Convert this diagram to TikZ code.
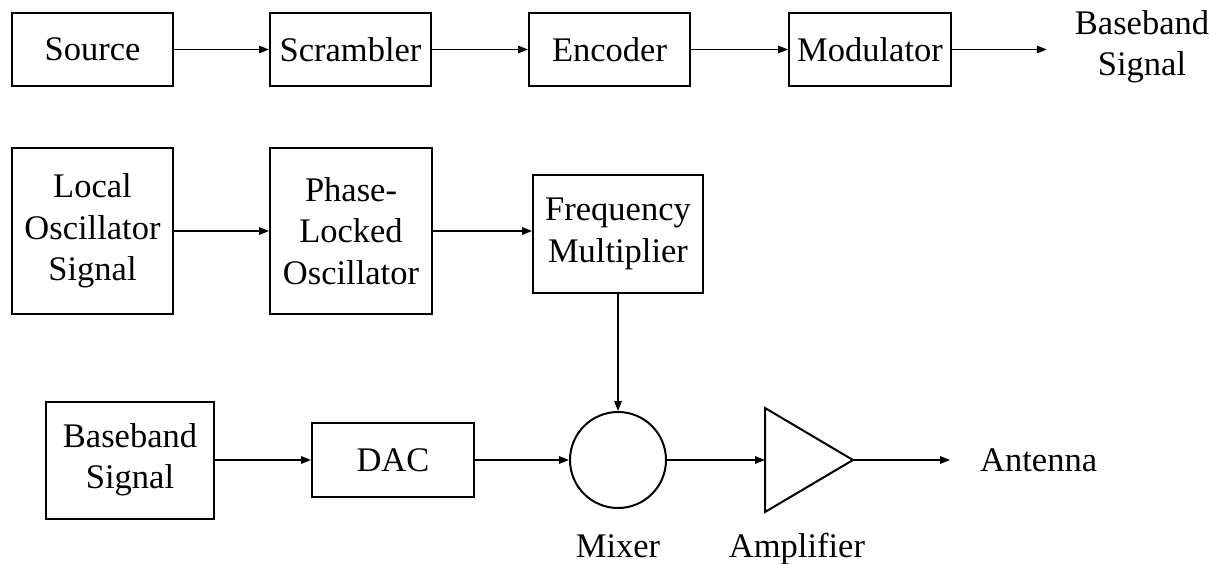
\documentclass[tikz,border=0pt]{standalone}
\usepackage{fontspec}
\setmainfont{Liberation Serif}
\usetikzlibrary{arrows.meta}

\tikzset{
  blk/.style={draw, line width=2pt, align=center, inner sep=0pt},
  arr/.style={-{Triangle[length=10pt,width=7.5pt]}, line width=1.6pt},
  lbl/.style={align=center, inner sep=0pt},
}

\begin{document}
\begin{tikzpicture}[x=1pt,y=-1pt,font=\fontsize{34.5}{41.5}\selectfont]
    \useasboundingbox (0,0) rectangle (1218,564);
    % transmitter chain
    \node[blk,minimum width=161pt,minimum height=73pt] (src) at (92.5,49.5) {Source};
    \node[blk,minimum width=161pt,minimum height=73pt] (scr) at (350.5,49.5) {Scrambler};
    \node[blk,minimum width=161pt,minimum height=73pt] (enc) at (609.5,49.5) {Encoder};
    \node[blk,minimum width=162pt,minimum height=73pt] (mod) at (870,49.5) {Modulator};
    \node[lbl,inner xsep=28pt] (bbout) at (1142,47) {Baseband\\Signal};
    % oscillator chain
    \node[blk,minimum width=161pt,minimum height=166pt] (lo) at (92.5,231) {Local\\Oscillator\\Signal};
    \node[blk,minimum width=162pt,minimum height=166pt] (plo) at (351,231) {Phase-\\Locked\\Oscillator};
    \node[blk,minimum width=170pt,minimum height=118pt] (fm) at (618,234) {Frequency\\Multiplier};
    % mixing and output
    \node[blk,minimum width=168pt,minimum height=117pt] (bb) at (130,460) {Baseband\\Signal};
    \node[blk,minimum width=162pt,minimum height=74pt] (dac) at (393,460) {DAC};
    \node[draw,circle,line width=2pt,minimum size=96pt,inner sep=0pt] (mix) at (618,460) {};
    \draw[line width=2pt,line join=miter] (765,408) -- (853,460) -- (765,512) -- cycle;
    \coordinate (ampin) at (765,460);
    \coordinate (ampout) at (853,460);
    \node[lbl,anchor=west,inner xsep=30pt] (ant) at (950,460) {Antenna};
    \node[lbl,anchor=base] (mixlbl) at (618,557) {Mixer};
    \node[lbl,anchor=base] (amplbl) at (797,557) {Amplifier};

    \draw[arr] (src) -- (scr);
    \draw[arr] (scr) -- (enc);
    \draw[arr] (enc) -- (mod);
    \draw[arr] (mod.east) -- (mod.east -| bbout.west);
    \draw[arr] (lo) -- (plo);
    \draw[arr] (plo.east) -- (plo.east -| fm.west);
    \draw[arr] (fm) -- (mix);
    \draw[arr] (bb) -- (dac);
    \draw[arr] (dac) -- (mix);
    \draw[arr] (mix) -- (ampin);
    \draw[arr] (ampout) -- (ant);
\end{tikzpicture}
\end{document}
